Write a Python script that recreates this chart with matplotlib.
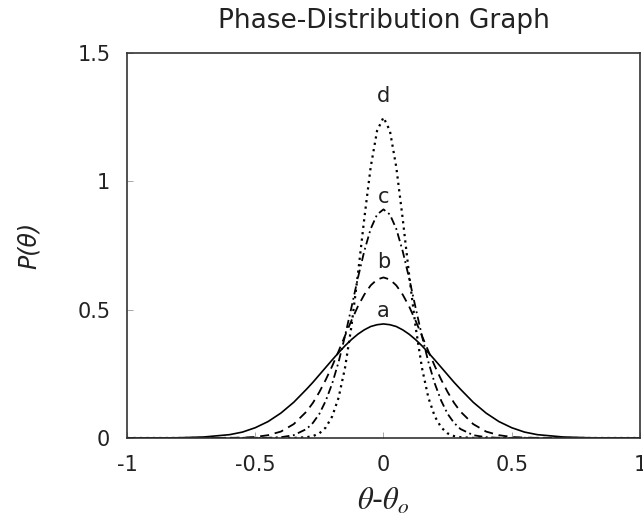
import matplotlib
matplotlib.use('Agg')
import matplotlib.pyplot as plt

plt.rcParams['font.family'] = ['DejaVu Sans']
plt.rcParams['mathtext.fontset'] = 'stix'
plt.rcParams['axes.unicode_minus'] = False

# phase offset theta - theta_o
x = [-1.0, -0.9, -0.8, -0.7, -0.6, -0.55, -0.5, -0.45, -0.4, -0.35, -0.3,
     -0.275, -0.25, -0.225, -0.2, -0.175, -0.15, -0.125, -0.1, -0.075, -0.05, -0.025,
     0.0,
     0.025, 0.05, 0.075, 0.1, 0.125, 0.15, 0.175, 0.2, 0.225, 0.25, 0.275,
     0.3, 0.35, 0.4, 0.45, 0.5, 0.55, 0.6, 0.7, 0.8, 0.9, 1.0]

# P(theta)
a = [0.0, 0.0, 0.001, 0.004, 0.013, 0.023, 0.040, 0.064, 0.097, 0.139, 0.190,
     0.217, 0.246, 0.275, 0.304, 0.332, 0.359, 0.383, 0.404, 0.421, 0.434, 0.441,
     0.444,
     0.441, 0.434, 0.421, 0.404, 0.383, 0.359, 0.332, 0.304, 0.275, 0.246, 0.217,
     0.190, 0.139, 0.097, 0.064, 0.040, 0.023, 0.013, 0.004, 0.001, 0.0, 0.0]
b = [0.0, 0.0, 0.0, 0.0, 0.0005, 0.0015, 0.004, 0.011, 0.025, 0.054, 0.103,
     0.137, 0.179, 0.227, 0.280, 0.338, 0.398, 0.457, 0.512, 0.558, 0.594, 0.617,
     0.625,
     0.617, 0.594, 0.558, 0.512, 0.457, 0.398, 0.338, 0.280, 0.227, 0.179, 0.137,
     0.103, 0.054, 0.025, 0.011, 0.004, 0.0015, 0.0005, 0.0, 0.0, 0.0, 0.0]
c = [0.0, 0.0, 0.0, 0.0, 0.0, 0.0, 0.0, 0.0007, 0.003, 0.011, 0.035,
     0.059, 0.094, 0.145, 0.212, 0.296, 0.397, 0.508, 0.622, 0.727, 0.814, 0.870,
     0.890,
     0.870, 0.814, 0.727, 0.622, 0.508, 0.397, 0.296, 0.212, 0.145, 0.094, 0.059,
     0.035, 0.011, 0.003, 0.0007, 0.0, 0.0, 0.0, 0.0, 0.0, 0.0, 0.0]
d = [0.0, 0.0, 0.0, 0.0, 0.0, 0.0, 0.0, 0.0, 0.0, 0.0003, 0.003,
     0.0075, 0.018, 0.041, 0.084, 0.157, 0.273, 0.434, 0.635, 0.853, 1.054, 1.196,
     1.248,
     1.196, 1.054, 0.853, 0.635, 0.434, 0.273, 0.157, 0.084, 0.041, 0.018, 0.0075,
     0.003, 0.0003, 0.0, 0.0, 0.0, 0.0, 0.0, 0.0, 0.0, 0.0, 0.0]

curve_names = ['a', 'b', 'c', 'd']
label_y = [0.495, 0.686, 0.94, 1.33]

xticks = [-1, -0.5, 0, 0.5, 1]
xtick_labels = ['-1', '-0.5', '0', '0.5', '1']
yticks = [0, 0.5, 1, 1.5]
ytick_labels = ['0', '0.5', '1', '1.5']

fig = plt.figure(figsize=(6.43, 5.17), dpi=100)
ax = fig.add_axes([0.1975, 0.1528, 0.7978, 0.7453])

ax.plot(x, a, color='black', lw=1.2, linestyle='-')
ax.plot(x, b, color='black', lw=1.3, linestyle=(0, (5.0, 3.2)))
ax.plot(x, c, color='black', lw=1.3, linestyle=(0, (4.5, 2.0, 1.0, 2.0)))
ax.plot(x, d, color='black', lw=1.6, linestyle=(0, (1.0, 1.9)))

for name, yy in zip(curve_names, label_y):
    ax.text(0, yy, name, ha='center', va='center', fontsize=15, color='#222222')

ax.set_xlim(-1, 1)
ax.set_ylim(0, 1.5)
ax.set_xticks(xticks)
ax.set_xticklabels(xtick_labels)
ax.set_yticks(yticks)
ax.set_yticklabels(ytick_labels)
ax.tick_params(direction='in', length=4, width=0.6, color='#999999',
               labelsize=15, labelcolor='#222222', pad=12)

for sp in ax.spines.values():
    sp.set_color('#333333')
    sp.set_linewidth(1.2)

ax.set_title('Phase-Distribution Graph', fontsize=19, color='#222222', pad=18)
ax.set_xlabel(r'$\theta$-$\theta_o$', fontsize=22, color='#222222', labelpad=8)
ax.set_ylabel('P(θ)', fontsize=17, style='italic', color='#222222', labelpad=26)

fig.savefig('out.png', dpi=100)
